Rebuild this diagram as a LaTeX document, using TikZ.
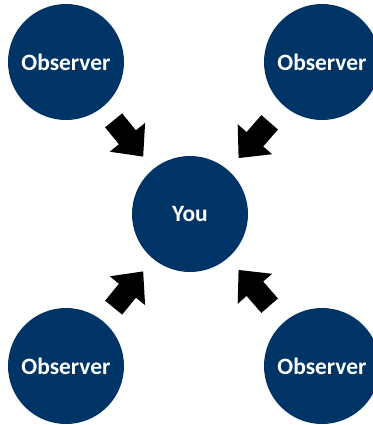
\documentclass[tikz,border=0pt]{standalone}
\usepackage{fontspec}
\setmainfont{Carlito}
\usepackage{tikz}
\usetikzlibrary{arrows.meta}

\definecolor{navy}{RGB}{0,52,102}

\begin{document}
\begin{tikzpicture}[x=0.75pt,y=-0.75pt,
        person/.style={circle,fill=navy,text=white,minimum size=87pt,inner sep=0pt,outer sep=0pt,
            font=\fontsize{17.6}{20}\selectfont\bfseries},
        push/.style={line width=16.5pt,-{Triangle[length=18.75pt,width=33pt]},shorten >=12pt}]
            \useasboundingbox (0,0) rectangle (373,425);
            \node[person] (you) at (190,214) {You};
            \node[person] (nw) at (66,62) {Observer};
            \node[person] (ne) at (322,62) {Observer};
            \node[person] (sw) at (66,366) {Observer};
            \node[person] (se) at (322,366) {Observer};
            \draw[push,shorten <=13pt] (nw) -- (you);
            \draw[push,shorten <=16.4pt] (ne) -- (you);
            \draw[push,shorten <=13pt] (sw) -- (you);
            \draw[push,shorten <=16.4pt] (se) -- (you);
        \end{tikzpicture}
\end{document}
